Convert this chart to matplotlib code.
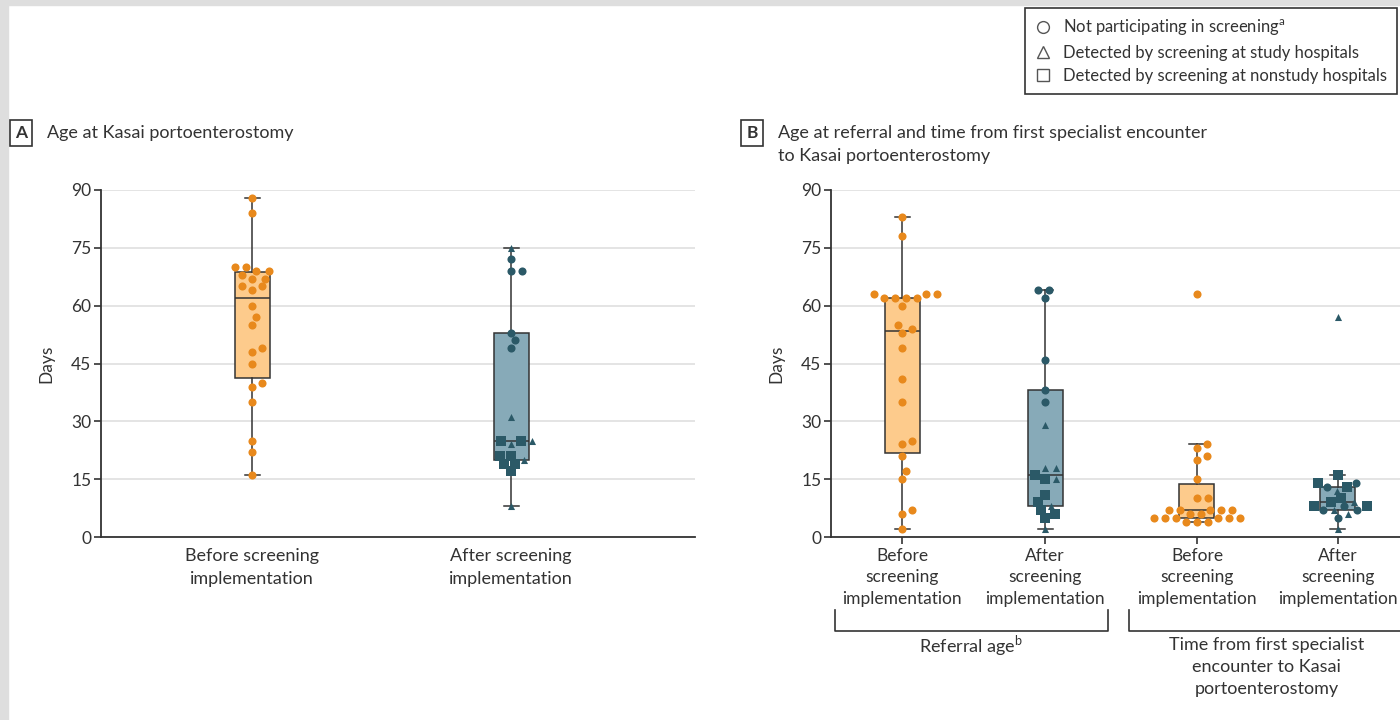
import numpy as np
import matplotlib
matplotlib.use('Agg')
import matplotlib.pyplot as plt
from matplotlib.lines import Line2D
from matplotlib.patches import Rectangle
from matplotlib.transforms import blended_transform_factory

plt.rcParams['font.family'] = ['Lato', 'DejaVu Sans']

# days, one value per infant; kinds: o = not participating, ^ = study hospital, s = nonstudy hospital
kasai_before = [88, 84, 70, 70, 69, 69, 68, 67, 67, 65, 65, 64, 60, 57, 55, 49, 48, 45,
                40, 39, 35, 25, 22, 16]
kasai_after = [75, 72, 69, 69, 53, 51, 49, 31, 25, 25, 25, 24, 21, 21, 20, 19, 19, 17, 8]
kasai_after_kind = ['^', 'o', 'o', 'o', 'o', 'o', 'o', '^', 's', 's', '^', '^', 's', 's',
                    '^', 's', 's', 's', '^']

referral_before = [83, 78, 63, 63, 63, 62, 62, 62, 62, 60, 55, 54, 53, 49, 41, 35, 25, 24,
                   21, 17, 15, 7, 6, 2]
referral_after = [64, 64, 62, 46, 38, 35, 29, 18, 18, 16, 15, 15, 11, 9, 8, 7, 6, 5, 2]
referral_after_kind = ['o', 'o', 'o', 'o', 'o', 'o', '^', '^', '^', 's', 's', '^', 's', 's',
                       '^', 's', 's', 's', '^']

interval_before = [63, 24, 23, 21, 20, 15, 10, 10, 7, 7, 7, 7, 7, 6, 6, 5, 5, 5, 5, 5, 5,
                   4, 4, 4]
interval_after = [57, 16, 14, 14, 13, 13, 12, 10, 9, 9, 8, 8, 8, 7, 7, 7, 6, 5, 2]
interval_after_kind = ['^', 's', 'o', 's', 's', 'o', '^', 's', 's', '^', 'o', 's', 's', '^',
                       'o', 'o', '^', 'o', '^']

group_labels_a = ['Before screening\nimplementation', 'After screening\nimplementation']
group_labels_b = ['Before\nscreening\nimplementation', 'After\nscreening\nimplementation'] * 2
legend_labels = [r'Not participating in screening$^{\mathregular{a}}$',
                 'Detected by screening at study hospitals',
                 'Detected by screening at nonstudy hospitals']

ORANGE = '#E8891C'
ORANGE_BOX = '#FDCB8C'
TEAL = '#2B5967'
TEAL_BOX = '#87AAB8'
INK = '#333333'
SIZES = {'o': 34, '^': 26, 's': 50}


def box_stats(values):
    v = np.asarray(values, float)
    q1, med, q3 = np.percentile(v, [25, 50, 75], method='weibull')
    iqr = q3 - q1
    lo = v[v >= q1 - 1.5 * iqr].min()
    hi = v[v <= q3 + 1.5 * iqr].max()
    return dict(whislo=lo, q1=q1, med=med, q3=q3, whishi=hi, fliers=[])


def swarm_offsets(ax, values, d=11.0, ky=1.35):
    # beeswarm in pixel space; vertical gaps count ky times so near values pack closer
    ys = ax.transData.transform(np.column_stack([np.zeros(len(values)), values]))[:, 1] * ky
    offs = np.zeros(len(values))
    placed = []
    for i in np.argsort(values, kind='stable'):
        y = ys[i]
        near = [(px, py) for px, py in placed if abs(py - y) < d]
        cands = [0.0]
        for px, py in near:
            dx = np.sqrt(d * d - (py - y) ** 2)
            cands += [px + dx, px - dx]
        cands.sort(key=abs)
        for c in cands:
            if all((c - px) ** 2 + (y - py) ** 2 >= d * d - 1e-6 for px, py in near):
                break
        offs[i] = c
        placed.append((c, y))
    return offs


def draw_group(ax, pos, values, kinds, color, fill, box_px=35, cap_px=15):
    unit = ax.bbox.width / (ax.get_xlim()[1] - ax.get_xlim()[0])
    line = dict(color=INK, linewidth=1.1)
    ax.bxp([box_stats(values)], positions=[pos], widths=box_px / unit,
           capwidths=cap_px / unit, patch_artist=True, showfliers=False,
           boxprops=dict(facecolor=fill, edgecolor=INK, linewidth=1.1),
           medianprops=line, whiskerprops=line, capprops=line, zorder=2)
    xs = pos + swarm_offsets(ax, values) / unit
    vals = np.asarray(values, float)
    kinds = np.asarray(kinds)
    for k in ['o', '^', 's']:
        m = kinds == k
        if m.any():
            ax.scatter(xs[m], vals[m], marker=k, s=SIZES[k], color=color,
                       linewidths=0, zorder=3, clip_on=False)


def style_axis(ax):
    ax.set_ylim(0, 90)
    ax.set_yticks(np.arange(0, 91, 15))
    ax.yaxis.grid(True, color='#E2E2E2', linewidth=1.3)
    ax.set_axisbelow(True)
    for s in ['top', 'right']:
        ax.spines[s].set_visible(False)
    for s in ['left', 'bottom']:
        ax.spines[s].set_color(INK)
        ax.spines[s].set_linewidth(1.3)
    ax.tick_params(axis='y', length=5, width=1.2, color=INK, labelsize=12.5,
                   labelcolor=INK, pad=2)
    ax.set_ylabel('Days', fontsize=12.5, color=INK, labelpad=12)


fig = plt.figure(figsize=(14, 7.2), dpi=100)
W, H = 1400, 720

# light frame along the top and left edges
fig.patches.append(Rectangle((0, 1 - 5 / H), 1, 5 / H, transform=fig.transFigure,
                             color='#DEDEDE', zorder=0))
fig.patches.append(Rectangle((0, 0), 8 / W, 1, transform=fig.transFigure,
                             color='#DEDEDE', zorder=0))

# panel A
axA = fig.add_axes([101 / W, 183 / H, 594 / W, 347 / H])
axA.set_xlim(-0.583, 1.71)
style_axis(axA)
draw_group(axA, 0, kasai_before, ['o'] * len(kasai_before), ORANGE, ORANGE_BOX)
draw_group(axA, 1, kasai_after, kasai_after_kind, TEAL, TEAL_BOX)
axA.set_xticks([0, 1], group_labels_a)
axA.tick_params(axis='x', length=0, labelsize=13, labelcolor=INK, pad=8)
for t in axA.get_xticklabels():
    t.set_linespacing(1.55)

# panel B
axB = fig.add_axes([831 / W, 183 / H, 569 / W, 347 / H])
axB.set_xlim(-0.497, 3.483)
style_axis(axB)
pos_b = [0, 1, 2.063, 3.049]
draw_group(axB, pos_b[0], referral_before, ['o'] * len(referral_before), ORANGE, ORANGE_BOX)
draw_group(axB, pos_b[1], referral_after, referral_after_kind, TEAL, TEAL_BOX)
draw_group(axB, pos_b[2], interval_before, ['o'] * len(interval_before), ORANGE, ORANGE_BOX)
draw_group(axB, pos_b[3], interval_after, interval_after_kind, TEAL, TEAL_BOX)
axB.set_xticks(pos_b, group_labels_b)
axB.tick_params(axis='x', length=5, width=1.2, color=INK, labelsize=12.5,
                labelcolor=INK, pad=3)
for t in axB.get_xticklabels():
    t.set_linespacing(1.4)

# group brackets under panel B
tr = blended_transform_factory(axB.transData, fig.transFigure)
y_top, y_bot = 1 - 610 / H, 1 - 631 / H
for x0, x1 in [(-0.469, 1.44), (1.587, 3.7)]:
    axB.add_line(Line2D([x0, x0, x1, x1], [y_top, y_bot, y_bot, y_top], transform=tr,
                        color=INK, linewidth=1.2, clip_on=False))
axB.text(0.485, 1 - 646 / H, r'Referral age$^{\mathregular{b}}$', transform=tr,
         ha='center', va='center', fontsize=13, color=INK)
axB.text(2.55, 1 - 637 / H, 'Time from first specialist\nencounter to Kasai\nportoenterostomy',
         transform=tr, ha='center', va='top', fontsize=13, color=INK, linespacing=1.45)

# panel titles
box = dict(boxstyle='square,pad=0.3', facecolor='white', edgecolor=INK, linewidth=1.2)
fig.text(21 / W, 1 - 133 / H, 'A', ha='center', va='center', fontsize=12.5,
         fontweight='bold', color=INK, bbox=box)
fig.text(47 / W, 1 - 133 / H, 'Age at Kasai portoenterostomy', ha='left', va='center',
         fontsize=13, color=INK)
fig.text(752 / W, 1 - 133 / H, 'B', ha='center', va='center', fontsize=12.5,
         fontweight='bold', color=INK, bbox=box)
fig.text(778 / W, 1 - 125 / H,
         'Age at referral and time from first specialist encounter\nto Kasai portoenterostomy',
         ha='left', va='top', fontsize=13, color=INK, linespacing=1.5)

# marker legend
handles = [Line2D([], [], marker=m, linestyle='none', markerfacecolor='white',
                  markeredgecolor='#555555', markersize=8.5, markeredgewidth=1.0)
           for m in ['o', '^', 's']]
leg = fig.legend(handles, legend_labels, loc='upper right',
                 bbox_to_anchor=(1397 / W, 1 - 8 / H), frameon=True, fancybox=False,
                 edgecolor=INK, framealpha=1, fontsize=12, handlelength=1.0,
                 handletextpad=0.7, labelspacing=0.42, borderpad=0.6, borderaxespad=0)
leg.get_frame().set_linewidth(1.2)
for t in leg.get_texts():
    t.set_color(INK)

fig.savefig('out.png', dpi=100)
